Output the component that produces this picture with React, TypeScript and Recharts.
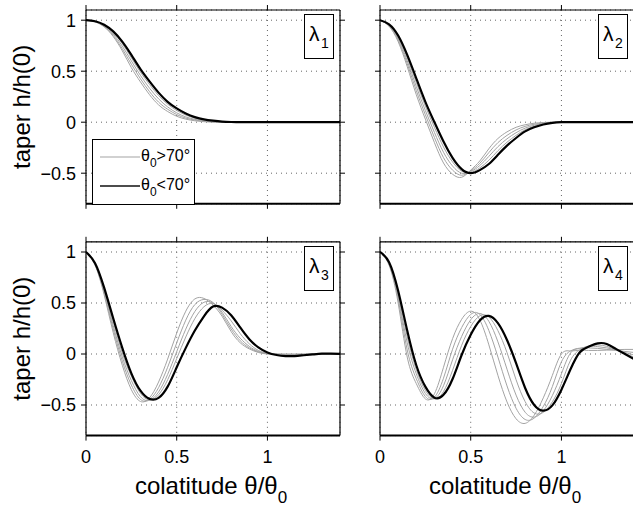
import React from 'react';
import { LineChart, Line, XAxis, YAxis, CartesianGrid, Legend } from 'recharts';

const THETA = [0, 0.05, 0.1, 0.15, 0.2, 0.25, 0.3, 0.35, 0.4, 0.45, 0.5, 0.55, 0.6, 0.65, 0.7, 0.75, 0.8, 0.85, 0.9, 0.95, 1, 1.05, 1.1, 1.15, 1.2, 1.25, 1.3, 1.35, 1.4];
const X_TICKS = [0, 0.5, 1];
const Y_TICKS = [-0.5, 0, 0.5, 1];
const X_DOMAIN: [number, number] = [0, 1.4];
const Y_DOMAIN: [number, number] = [-0.8, 1.1];
const PANEL_INDEX = ['1', '2', '3', '4'];
const LEGEND_LABELS = ['>70°', '<70°'];
const Y_TITLE = 'taper h/h(0)';
const X_TITLE = 'colatitude θ/θ';

// lambda 1
const L1_BLACK = [1, 0.99, 0.955, 0.89, 0.79, 0.66, 0.52, 0.4, 0.29, 0.2, 0.135, 0.085, 0.05, 0.028, 0.015, 0.006, 0.002, 0, 0, 0, 0, 0, 0, 0, 0, 0, 0, 0, 0];
const L1_GRAY_A = [1, 0.983, 0.935, 0.84, 0.7, 0.535, 0.395, 0.27, 0.17, 0.105, 0.058, 0.03, 0.014, 0.005, 0.001, 0, 0, 0, 0, 0, 0, 0, 0, 0, 0, 0, 0, 0, 0];
const L1_GRAY_B = [1, 0.985, 0.938, 0.851, 0.72, 0.569, 0.426, 0.3, 0.197, 0.127, 0.075, 0.04, 0.021, 0.009, 0.003, 0, 0, 0, 0, 0, 0, 0, 0, 0, 0, 0, 0, 0, 0];
const L1_GRAY_C = [1, 0.987, 0.944, 0.864, 0.746, 0.601, 0.459, 0.334, 0.229, 0.15, 0.092, 0.052, 0.028, 0.014, 0.005, 0.001, 0, 0, 0, 0, 0, 0, 0, 0, 0, 0, 0, 0, 0];
const L1_GRAY_D = [1, 0.988, 0.95, 0.879, 0.77, 0.632, 0.491, 0.37, 0.261, 0.177, 0.115, 0.07, 0.04, 0.021, 0.01, 0.004, 0.001, 0, 0, 0, 0, 0, 0, 0, 0, 0, 0, 0, 0];

// lambda 2
const L2_BLACK = [1, 0.96, 0.85, 0.66, 0.43, 0.2, 0, -0.19, -0.35, -0.46, -0.5, -0.47, -0.41, -0.32, -0.23, -0.155, -0.09, -0.05, -0.022, -0.006, 0, 0, 0, 0, 0, 0, 0, 0, 0];
const L2_GRAY_A = [1, 0.94, 0.79, 0.545, 0.27, 0.03, -0.2, -0.4, -0.51, -0.54, -0.47, -0.38, -0.26, -0.16, -0.095, -0.05, -0.025, -0.01, -0.003, 0, 0, 0, 0, 0, 0, 0, 0, 0, 0];
const L2_GRAY_B = [1, 0.945, 0.805, 0.574, 0.31, 0.073, -0.15, -0.348, -0.47, -0.52, -0.478, -0.403, -0.298, -0.2, -0.129, -0.076, -0.041, -0.02, -0.008, -0.0015, 0, 0, 0, 0, 0, 0, 0, 0, 0];
const L2_GRAY_C = [1, 0.95, 0.82, 0.603, 0.35, 0.115, -0.1, -0.295, -0.43, -0.5, -0.485, -0.425, -0.335, -0.24, -0.163, -0.103, -0.058, -0.03, -0.013, -0.003, 0, 0, 0, 0, 0, 0, 0, 0, 0];
const L2_GRAY_D = [1, 0.955, 0.835, 0.631, 0.39, 0.158, -0.05, -0.243, -0.39, -0.48, -0.493, -0.448, -0.373, -0.28, -0.196, -0.129, -0.074, -0.04, -0.017, -0.005, 0, 0, 0, 0, 0, 0, 0, 0, 0];

// lambda 3
const L3_BLACK = [1, 0.89, 0.65, 0.35, 0.06, -0.19, -0.36, -0.44, -0.43, -0.32, -0.13, 0.06, 0.23, 0.37, 0.465, 0.455, 0.38, 0.26, 0.145, 0.065, 0.015, -0.01, -0.02, -0.02, -0.012, -0.004, 0.003, 0.004, 0.002];
const L3_GRAY_A = [1, 0.87, 0.58, 0.21, -0.11, -0.35, -0.465, -0.43, -0.275, -0.05, 0.205, 0.42, 0.54, 0.545, 0.48, 0.37, 0.22, 0.11, 0.05, 0.015, 0, 0, 0, 0, 0, 0, 0, 0, 0];
const L3_GRAY_B = [1, 0.875, 0.6, 0.245, -0.07, -0.304, -0.445, -0.447, -0.33, -0.13, 0.109, 0.332, 0.485, 0.535, 0.505, 0.39, 0.245, 0.13, 0.06, 0.02, 0.002, -0.002, -0.004, -0.004, -0.002, 0, 0, 0, 0];
const L3_GRAY_C = [1, 0.88, 0.615, 0.28, -0.03, -0.26, -0.418, -0.454, -0.372, -0.2, 0.023, 0.244, 0.417, 0.507, 0.5, 0.41, 0.27, 0.155, 0.075, 0.025, 0.005, -0.003, -0.008, -0.008, -0.005, -0.002, 0.001, 0.002, 0.001];
const L3_GRAY_D = [1, 0.885, 0.63, 0.32, 0.01, -0.217, -0.385, -0.45, -0.4, -0.253, -0.045, 0.167, 0.347, 0.463, 0.494, 0.43, 0.325, 0.2, 0.1, 0.035, 0.005, -0.005, -0.012, -0.013, -0.008, -0.003, 0.002, 0.003, 0.001];

// lambda 4
const L4_BLACK = [1, 0.9, 0.62, 0.23, -0.11, -0.32, -0.428, -0.4, -0.245, -0.01, 0.188, 0.328, 0.373, 0.302, 0.137, -0.09, -0.333, -0.5, -0.556, -0.504, -0.35, -0.15, 0.015, 0.072, 0.104, 0.098, 0.05, 0, -0.05];
const L4_GRAY_A = [1, 0.87, 0.5, -0.03, -0.29, -0.44, -0.39, -0.13, 0.15, 0.34, 0.42, 0.335, 0.09, -0.21, -0.47, -0.635, -0.68, -0.6, -0.43, -0.21, 0, 0.03, 0.037, 0.035, 0.035, 0.038, 0.042, 0.045, 0.045];
const L4_GRAY_B = [1, 0.88, 0.54, 0.04, -0.242, -0.417, -0.424, -0.237, 0.047, 0.259, 0.388, 0.389, 0.23, -0.03, -0.313, -0.532, -0.642, -0.628, -0.514, -0.32, -0.077, 0.03, 0.057, 0.06, 0.055, 0.045, 0.035, 0.025, 0.015];
const L4_GRAY_C = [1, 0.885, 0.56, 0.11, -0.194, -0.387, -0.436, -0.311, -0.057, 0.172, 0.336, 0.397, 0.32, 0.119, -0.149, -0.403, -0.571, -0.619, -0.557, -0.408, -0.194, 0.01, 0.053, 0.075, 0.072, 0.06, 0.04, 0.015, -0.01];
const L4_GRAY_D = [1, 0.89, 0.59, 0.17, -0.153, -0.357, -0.44, -0.368, -0.16, 0.085, 0.27, 0.374, 0.363, 0.229, 0.014, -0.252, -0.467, -0.579, -0.572, -0.469, -0.289, -0.062, 0.04, 0.079, 0.089, 0.075, 0.04, 0.005, -0.03];

const FONT = '"Liberation Sans", Arial, Helvetica, sans-serif';
const CW = 660;
const CH = 508;
const GRAY = '#a3a3a3';

const PANELS = [
  { black: L1_BLACK, grays: [L1_GRAY_A, L1_GRAY_B, L1_GRAY_C, L1_GRAY_D], plot: { left: 86, top: 10, width: 254, height: 193.8 }, xLabels: false, yLabels: true, legend: true },
  { black: L2_BLACK, grays: [L2_GRAY_A, L2_GRAY_B, L2_GRAY_C, L2_GRAY_D], plot: { left: 380, top: 10, width: 254, height: 193.8 }, xLabels: false, yLabels: false, legend: false },
  { black: L3_BLACK, grays: [L3_GRAY_A, L3_GRAY_B, L3_GRAY_C, L3_GRAY_D], plot: { left: 86, top: 241.8, width: 254, height: 193.8 }, xLabels: true, yLabels: true, legend: false },
  { black: L4_BLACK, grays: [L4_GRAY_A, L4_GRAY_B, L4_GRAY_C, L4_GRAY_D], plot: { left: 380, top: 241.8, width: 254, height: 193.8 }, xLabels: true, yLabels: false, legend: false },
];

const tickStyle = { fontSize: 18, fill: '#000', fontFamily: FONT };
const noTick = () => <g />;
const fmtY = (v: number) => (v < 0 ? '\u2212' + Math.abs(v) : String(v));

const LegendBox = () => (
  <div style={{ position: 'relative', width: 103, height: 66, boxSizing: 'border-box', border: '1.5px solid #000', background: '#fff', fontFamily: FONT, fontSize: 16, color: '#000' }}>
    {LEGEND_LABELS.map((lab, i) => {
      const cy = i === 0 ? 17 : 46;
      return (
        <React.Fragment key={lab}>
          <svg style={{ position: 'absolute', left: 7, top: cy - 2 }} width={40} height={4}>
            <line x1={0} y1={2} x2={40} y2={2} stroke={i === 0 ? GRAY : '#111'} strokeWidth={i === 0 ? 1 : 1.6} />
          </svg>
          <span style={{ position: 'absolute', left: 48, top: cy - 9, lineHeight: '16px', whiteSpace: 'nowrap' }}>
            θ<span style={{ fontSize: 12, position: 'relative', top: 6 }}>0</span>{lab}
          </span>
        </React.Fragment>
      );
    })}
  </div>
);

const Panel = ({ cfg, idx }: any) => {
  const data = THETA.map((x, i) => ({
    x,
    b: cfg.black[i],
    g1: cfg.grays[0][i],
    g2: cfg.grays[1][i],
    g3: cfg.grays[2][i],
    g4: cfg.grays[3][i],
  }));
  const { left, top, width, height } = cfg.plot;
  const axisLine = { stroke: '#000', strokeWidth: 1.2 };
  const tickLine = { stroke: '#000', strokeWidth: 1 };
  return (
    <div style={{ position: 'absolute', left: 0, top: 0 }}>
      <LineChart width={CW} height={CH} data={data} margin={{ top: 0, right: 0, bottom: 0, left: 0 }}>
        <CartesianGrid xAxisId="b" yAxisId="l" stroke="#666" strokeDasharray="1 4" strokeWidth={1} />
        <XAxis xAxisId="b" dataKey="x" type="number" domain={X_DOMAIN} ticks={X_TICKS} allowDataOverflow interval={0}
          orientation="bottom" height={CH - top - height} tickSize={5} tickMargin={10}
          tick={cfg.xLabels ? tickStyle : noTick} axisLine={{ stroke: '#000', strokeWidth: 2 }} tickLine={tickLine} />
        <XAxis xAxisId="t" dataKey="x" type="number" domain={X_DOMAIN} ticks={X_TICKS} allowDataOverflow interval={0}
          orientation="top" height={top} tickSize={5} tick={noTick} axisLine={axisLine} tickLine={tickLine} />
        <YAxis yAxisId="l" type="number" domain={Y_DOMAIN} ticks={Y_TICKS} allowDataOverflow interval={0}
          orientation="left" width={left} tickSize={5} tickMargin={5} tickFormatter={fmtY}
          tick={cfg.yLabels ? tickStyle : noTick} axisLine={axisLine} tickLine={tickLine} />
        <YAxis yAxisId="r" type="number" domain={Y_DOMAIN} ticks={Y_TICKS} allowDataOverflow interval={0}
          orientation="right" width={CW - left - width} tickSize={5} tick={noTick} axisLine={axisLine} tickLine={tickLine} />
        <Line xAxisId="t" yAxisId="r" dataKey="b" type="natural" stroke="none" strokeWidth={0}
          dot={false} activeDot={false} isAnimationActive={false} legendType="none" />
        {['g1', 'g2', 'g3', 'g4'].map((k) => (
          <Line key={k} xAxisId="b" yAxisId="l" dataKey={k} type="natural" stroke={GRAY} strokeWidth={1}
            dot={false} activeDot={false} isAnimationActive={false} legendType="none" />
        ))}
        <Line xAxisId="b" yAxisId="l" dataKey="b" type="natural" stroke="#000" strokeWidth={2.2}
          dot={false} activeDot={false} isAnimationActive={false} legendType="none" />
        {cfg.legend && (
          <Legend layout="vertical" align="center" verticalAlign="middle"
            wrapperStyle={{ left: 92, top: 139, width: 103, height: 66 }}
            content={() => <LegendBox />} />
        )}
      </LineChart>
      <div style={{ position: 'absolute', left: left + width - 36, top: top + 4, width: 30, height: 45, boxSizing: 'border-box', border: '1px solid #000', background: '#fff', fontFamily: FONT, color: '#000' }}>
        <span style={{ position: 'absolute', left: 4, top: 8, fontSize: 21, lineHeight: '21px' }}>λ</span>
        <span style={{ position: 'absolute', left: 16, top: 21, fontSize: 14, lineHeight: '14px' }}>{PANEL_INDEX[idx]}</span>
      </div>
    </div>
  );
};

export default function App() {
  return (
    <div style={{ position: 'absolute', left: 0, top: 0, width: 633, height: 508, overflow: 'hidden', background: '#fff' }}>
      {PANELS.map((p, i) => (
        <Panel key={i} cfg={p} idx={i} />
      ))}
      <svg style={{ position: 'absolute', left: 0, top: 0 }} width={633} height={508}>
        {[106.9, 338.7].map((cy) => (
          <text key={cy} transform={`translate(29.5, ${cy}) rotate(-90)`} textAnchor="middle" fontFamily={FONT} fontSize={24} fill="#000">
            {Y_TITLE}
          </text>
        ))}
        {[211, 505].map((cx) => (
          <text key={cx} x={cx} y={494} textAnchor="middle" fontFamily={FONT} fontSize={24} fill="#000">
            {X_TITLE}
            <tspan dy={9} fontSize={17}>0</tspan>
          </text>
        ))}
      </svg>
    </div>
  );
}
